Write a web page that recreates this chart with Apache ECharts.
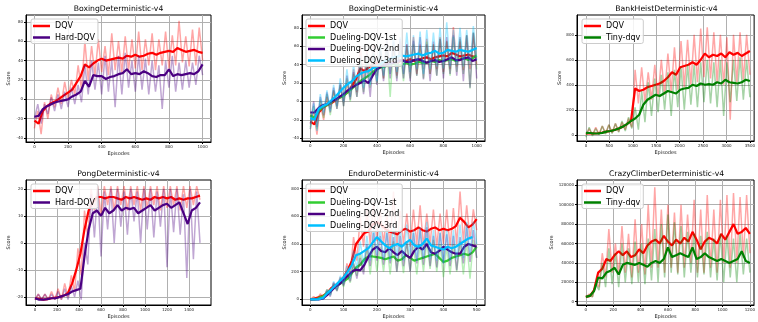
<!DOCTYPE html>
<html>
<head>
<meta charset="utf-8">
<script src="https://cdn.jsdelivr.net/npm/echarts@6/dist/echarts.min.js"></script>
<style>
  html, body { margin: 0; padding: 0; background: #fff; }
  #chart { width: 758px; height: 322px; }
</style>
</head>
<body>
<div id="chart"></div>
<script>
// ---- Boxing (DQV vs Hard-DQV, and the Dueling runs) ----
const boxRawStep = 20, boxSmoothStep = 25;
const boxDqvRaw = [-30,-12,-36,-3,-20,5,-8,12,-5,18,0,20,5,35,10,60,20,55,25,62,28,55,25,68,30,60,28,65,30,62,32,70,30,62,35,68,30,62,35,70,32,66,35,81,38,65,34,72,35,74,40];
const boxHardRaw = [-20,-5,-25,-5,-15,2,-12,5,-10,8,-8,12,-5,15,-3,35,5,40,10,38,5,45,8,40,-8,45,5,48,12,40,8,45,10,42,5,40,8,35,-10,40,12,45,8,38,10,40,12,38,15,45,25];
const boxDqv = [-22,-25,-12,-7,-4,-2,1,4,7,10,17,24,36,33,37,40,42,40,41,42,43,42,45,44,46,44,45,47,48,46,48,49,50,49,53,51,49,50,51,49,48];
const boxHard = [-18,-17,-10,-7,-5,-3,-2,-1,0,3,5,8,19,13,25,24,24,21,23,24,26,27,31,26,27,26,29,27,24,23,25,25,31,24,26,25,26,27,26,29,36];
const boxD1Raw = [-28,-5,-30,2,-18,8,-15,12,-8,18,-5,25,0,30,5,40,10,45,15,52,20,58,25,60,5,62,25,58,22,60,25,62,28,60,25,65,30,62,28,68,30,65,28,70,32,68,30,72,14,75,35];
const boxD2Raw = [-25,0,-28,5,-15,10,-12,15,-8,20,-5,28,2,32,5,38,8,40,5,50,18,58,22,62,25,65,22,68,25,62,22,66,28,70,24,62,22,65,28,68,25,70,30,72,28,70,22,72,15,75,25];
const boxD3Raw = [-30,-2,-32,8,-12,12,-10,18,-5,25,0,35,5,40,12,50,15,52,18,58,22,62,28,68,30,72,32,70,30,75,32,72,35,76,30,78,35,75,38,80,36,86,38,78,40,80,38,78,40,82,45];
const boxD1 = [-15,-18,-10,-6,-4,-1,2,4,6,10,14,18,22,25,28,32,35,37,38,40,41,39,40,42,40,41,43,42,42,44,43,45,44,45,46,44,46,47,45,47,50];
const boxD2 = [-12,-12,-7,-4,-3,0,2,5,8,12,15,18,20,23,20,28,35,38,40,41,42,44,45,43,43,45,46,44,42,44,45,43,44,46,48,45,45,47,48,44,46];
const boxD3 = [-18,-20,-8,-5,-3,1,5,10,15,19,22,27,30,32,33,36,38,41,44,46,48,49,50,49,50,51,52,50,52,53,55,52,53,56,55,54,56,55,54,56,58];
const boxXTicks = [0,200,400,600,800,1000];
const boxYTicks = [-40,-20,0,20,40,60,80];

// ---- BankHeist ----
const bankRawStep = 70, bankSmoothStep = 87.5;
const bankDqvRaw = [0,50,0,60,5,70,10,80,15,90,25,100,40,130,60,520,250,540,260,500,280,560,300,600,320,650,340,700,360,750,380,760,400,800,420,850,460,860,450,820,420,800,400,780,120,800,420,820,440,800,480];
const bankTinyRaw = [-20,60,-10,50,0,70,5,80,10,90,20,110,30,140,50,220,40,350,100,420,150,450,180,480,200,500,150,520,220,540,200,560,240,560,220,580,260,600,250,580,220,600,150,580,260,600,270,620,280,600,300];
const bankDqv = [10,12,10,12,18,25,30,38,50,65,85,110,370,350,360,380,390,400,410,430,460,500,480,540,550,560,580,560,600,650,620,640,630,650,620,660,640,655,630,650,670];
const bankTiny = [15,14,10,10,15,25,30,38,50,65,85,110,130,160,240,280,300,320,310,330,350,340,330,360,370,375,400,390,410,400,405,400,420,410,440,420,415,410,420,440,430];
const bankXTicks = [0,500,1000,1500,2000,2500,3000,3500];
const bankYTicks = [0,200,400,600,800];

// ---- Pong ----
const pongRawStep = 30, pongSmoothStep = 37.5;
const pongDqvRaw = [-21,-19,-21,-19,-21,-18,-21,-17,-21,-15,-20,-12,-18,-2,-12,12,2,20,12,21,10,21,14,21,12,21,14,21,12,21,14,21,12,21,13,21,14,21,12,21,13,21,14,21,12,21,13,21,14,21,16];
const pongHardRaw = [-21,-19,-21,-19,-21,-19,-21,-18,-21,-17,-21,-16,-20,-14,-21,0,-8,18,2,20,-5,19,5,20,0,20,6,19,3,20,8,19,0,20,5,20,2,19,6,20,-9,20,4,20,3,18,-13,20,-6,19,0];
const pongDqv = [-20.5,-20.7,-21,-20.8,-20.5,-20.3,-20,-19.5,-18.5,-15,-10,-4,5,12,15,17,17,16.5,17,17,16.5,16,17,16.5,17,16.5,16,16.5,16,17,16.5,17,16.5,17,16,16.5,16,16.5,16.5,17,17.5];
const pongHard = [-20.5,-21,-21,-20.8,-20.5,-20.5,-20,-19.5,-19,-18,-17.5,-17,-5,5,11,12,10,13,11,12,14,12,13,12.5,13,11,12,13,14,12,13,14,14.5,13,14,15,11,7,12,13,15];
const pongXTicks = [0,200,400,600,800,1000,1200,1400];
const pongYTicks = [-20,-10,0,10,20];

// ---- Enduro ----
const enduroRawStep = 10, enduroSmoothStep = 12.5;
const enduroDqvRaw = [0,20,0,40,10,70,40,120,70,160,110,260,180,450,280,600,380,650,400,700,420,650,400,620,380,780,380,640,400,620,380,650,400,680,380,620,400,650,380,620,400,650,380,660,400,780,420,680,430,650,500];
const enduroD1Raw = [0,10,0,30,5,70,30,110,60,140,90,180,120,260,170,340,200,380,180,400,200,380,200,400,180,420,200,380,190,420,200,380,180,400,200,420,220,430,200,400,160,380,180,400,200,420,180,420,150,430,300];
const enduroD2Raw = [0,0,0,10,0,60,20,120,60,150,100,200,130,260,150,300,180,400,240,480,280,460,250,480,260,450,200,460,240,420,200,480,260,500,250,520,240,460,230,480,260,470,240,460,210,450,260,520,270,500,300];
const enduroD3Raw = [0,0,0,15,0,70,30,130,70,170,110,240,150,350,220,420,250,460,280,530,320,520,290,500,280,540,300,520,280,540,320,500,280,520,300,560,290,500,280,490,260,500,280,500,290,540,300,560,330,560,400];
const enduroDqv = [0,5,15,25,45,80,100,125,160,210,280,400,440,480,490,540,560,540,510,490,480,470,500,510,490,500,520,500,490,510,520,500,510,500,510,530,590,560,520,540,580];
const enduroD1 = [0,0,5,20,45,70,90,110,130,150,190,230,250,290,310,310,305,300,290,300,310,280,290,320,300,280,290,300,310,320,330,300,270,280,300,310,320,330,320,340,380];
const enduroD2 = [0,0,0,5,30,60,90,110,140,170,200,215,210,250,310,360,380,350,340,370,340,320,350,320,300,350,380,360,400,340,330,350,380,360,340,330,330,380,400,390,380];
const enduroD3 = [0,0,0,10,40,70,100,130,160,200,250,320,330,350,370,410,450,420,390,370,390,400,380,410,430,390,380,400,440,390,380,370,360,380,370,380,400,420,440,450,null];
const enduroXTicks = [0,100,200,300,400,500];
const enduroYTicks = [0,200,400,600,800];

// ---- CrazyClimber ----
const crazyRawStep = 24, crazySmoothStep = 30;
const crazyDqvRaw = [4000,8000,5000,20000,15000,50000,25000,75000,30000,60000,28000,78000,30000,70000,25000,85000,30000,80000,28000,100000,35000,118000,35000,95000,30000,100000,35000,92000,30000,100000,35000,90000,40000,105000,30000,95000,30000,110000,35000,95000,30000,105000,40000,110000,35000,112000,40000,108000,45000,110000,50000];
const crazyTinyRaw = [5000,7000,5000,18000,12000,40000,15000,55000,18000,50000,15000,60000,20000,55000,18000,62000,20000,60000,18000,65000,22000,75000,20000,80000,25000,90000,30000,82000,28000,78000,25000,72000,30000,70000,25000,68000,28000,72000,25000,65000,22000,70000,20000,68000,25000,65000,20000,70000,28000,65000,30000];
const crazyDqv = [5000,6000,12000,30000,34000,44000,42000,48000,52000,48000,52000,46000,48000,54000,50000,58000,62000,64000,60000,68000,62000,58000,64000,60000,66000,62000,72000,64000,54000,62000,66000,64000,60000,70000,64000,72000,80000,70000,72000,76000,70000];
const crazyTiny = [5000,6000,11000,25000,24000,30000,32000,35000,28000,38000,40000,39000,38000,40000,38000,36000,40000,42000,40000,44000,56000,46000,48000,50000,48000,46000,56000,44000,46000,50000,46000,44000,42000,44000,42000,40000,42000,44000,52000,42000,40000];
const crazyXTicks = [0,200,400,600,800,1000,1200];
const crazyYTicks = [0,20000,40000,60000,80000,100000,120000];

const RED = '#ff0000', INDIGO = '#4b0082', LIME = '#32cd32', SKY = '#00bfff', GREEN = '#008000';
const FONT = 'DejaVu Sans';

const panels = [
  { title: 'BoxingDeterministic-v4', left: 26, top: 15, width: 185, height: 127,
    xMin: -50, xMax: 1050, yMin: -44, yMax: 87, xTicks: boxXTicks, yTicks: boxYTicks, nameGap: 15,
    legLeft: 31, legTop: 19,
    runs: [['DQV', RED, boxDqvRaw, boxRawStep, boxDqv, boxSmoothStep],
           ['Hard-DQV', INDIGO, boxHardRaw, boxRawStep, boxHard, boxSmoothStep]] },
  { title: 'BoxingDeterministic-v4', left: 302, top: 15, width: 183, height: 126,
    xMin: -50, xMax: 1050, yMin: -43, yMax: 94, xTicks: boxXTicks, yTicks: boxYTicks, nameGap: 15,
    legLeft: 306, legTop: 19,
    runs: [['DQV', RED, boxDqvRaw, boxRawStep, boxDqv, boxSmoothStep],
           ['Dueling-DQV-1st', LIME, boxD1Raw, boxRawStep, boxD1, boxSmoothStep],
           ['Dueling-DQV-2nd', INDIGO, boxD2Raw, boxRawStep, boxD2, boxSmoothStep],
           ['Dueling-DQV-3rd', SKY, boxD3Raw, boxRawStep, boxD3, boxSmoothStep]] },
  { title: 'BankHeistDeterministic-v4', left: 577, top: 15, width: 179, height: 126,
    xMin: -190, xMax: 3590, yMin: -50, yMax: 958, xTicks: bankXTicks, yTicks: bankYTicks, nameGap: 15,
    legLeft: 582, legTop: 19,
    runs: [['DQV', RED, bankDqvRaw, bankRawStep, bankDqv, bankSmoothStep],
           ['Tiny-dqv', GREEN, bankTinyRaw, bankRawStep, bankTiny, bankSmoothStep]] },
  { title: 'PongDeterministic-v4', left: 26, top: 180, width: 185, height: 125,
    xMin: -82, xMax: 1600, yMin: -23, yMax: 23.3, xTicks: pongXTicks, yTicks: pongYTicks, nameGap: 15,
    legLeft: 31, legTop: 184,
    runs: [['DQV', RED, pongDqvRaw, pongRawStep, pongDqv, pongSmoothStep],
           ['Hard-DQV', INDIGO, pongHardRaw, pongRawStep, pongHard, pongSmoothStep]] },
  { title: 'EnduroDeterministic-v4', left: 302, top: 180, width: 183, height: 125,
    xMin: -25, xMax: 525, yMin: -41, yMax: 863, xTicks: enduroXTicks, yTicks: enduroYTicks, nameGap: 15,
    legLeft: 306, legTop: 184,
    runs: [['DQV', RED, enduroDqvRaw, enduroRawStep, enduroDqv, enduroSmoothStep],
           ['Dueling-DQV-1st', LIME, enduroD1Raw, enduroRawStep, enduroD1, enduroSmoothStep],
           ['Dueling-DQV-2nd', INDIGO, enduroD2Raw, enduroRawStep, enduroD2, enduroSmoothStep],
           ['Dueling-DQV-3rd', SKY, enduroD3Raw, enduroRawStep, enduroD3, enduroSmoothStep]] },
  { title: 'CrazyClimberDeterministic-v4', left: 577, top: 180, width: 179, height: 125,
    xMin: -65, xMax: 1230, yMin: -3400, yMax: 125500, xTicks: crazyXTicks, yTicks: crazyYTicks, nameGap: 23,
    legLeft: 582, legTop: 184,
    runs: [['DQV', RED, crazyDqvRaw, crazyRawStep, crazyDqv, crazySmoothStep],
           ['Tiny-dqv', GREEN, crazyTinyRaw, crazyRawStep, crazyTiny, crazySmoothStep]] }
];

function pts(vals, step) {
  return vals.map((v, i) => [i * step, v]);
}

const tickLabel = { fontSize: 4, color: '#222', fontFamily: FONT, formatter: v => String(v) };
const gridLine = { show: true, lineStyle: { color: '#b0b0b0', width: 1 } };

const grids = [], xAxes = [], yAxes = [], legends = [], series = [], titles = [];

panels.forEach((p, i) => {
  grids.push({ left: p.left, top: p.top, width: p.width, height: p.height,
    show: true, borderColor: '#000', borderWidth: 1, containLabel: false });
  xAxes.push({ gridIndex: i, type: 'value', min: p.xMin, max: p.xMax,
    name: 'Episodes', nameLocation: 'middle', nameGap: 9,
    nameTextStyle: { fontSize: 5, fontFamily: FONT, color: '#222' },
    axisLine: { show: true, onZero: false, lineStyle: { color: '#000', width: 1 } },
    axisTick: { show: true, length: 2, customValues: p.xTicks, lineStyle: { color: '#000' } },
    axisLabel: Object.assign({ customValues: p.xTicks, margin: 3 }, tickLabel),
    splitLine: gridLine });
  yAxes.push({ gridIndex: i, type: 'value', min: p.yMin, max: p.yMax,
    name: 'Score', nameLocation: 'middle', nameGap: p.nameGap, nameRotate: 90,
    nameTextStyle: { fontSize: 5, fontFamily: FONT, color: '#222' },
    axisLine: { show: true, onZero: false, lineStyle: { color: '#000', width: 1 } },
    axisTick: { show: true, length: 2, customValues: p.yTicks, lineStyle: { color: '#000' } },
    axisLabel: Object.assign({ customValues: p.yTicks, margin: 3 }, tickLabel),
    splitLine: gridLine });

  // noisy per-episode run first, then its running mean on top
  p.runs.forEach(([name, color, raw, rawStep, smooth, smoothStep]) => {
    series.push({ type: 'line', name: name + ' (raw)', xAxisIndex: i, yAxisIndex: i,
      data: pts(raw, rawStep), symbol: 'none', silent: true, color: color,
      lineStyle: { width: 1.5, opacity: 0.35 } });
    series.push({ type: 'line', name: name, xAxisIndex: i, yAxisIndex: i,
      data: pts(smooth, smoothStep), symbol: 'none', color: color,
      lineStyle: { width: 2.2 } });
  });

  legends.push({ orient: 'vertical', left: p.legLeft, top: p.legTop,
    data: p.runs.map(r => r[0]), icon: 'rect', itemWidth: 17, itemHeight: 2.5, itemGap: 3.5,
    padding: [3, 3, 2, 2], backgroundColor: 'rgba(255,255,255,0.85)',
    borderColor: '#cccccc', borderWidth: 1, borderRadius: 2,
    textStyle: { fontSize: 8, fontFamily: FONT, color: '#000' } });

  titles.push({ type: 'text', x: p.left + p.width / 2, y: p.top - 5.5,
    style: { text: p.title, fill: '#000', font: '7.7px "DejaVu Sans"', align: 'center', verticalAlign: 'middle' } });
});

const chart = echarts.init(document.getElementById('chart'), null, { renderer: 'canvas' });
chart.setOption({
  animation: false,
  backgroundColor: '#fff',
  grid: grids,
  xAxis: xAxes,
  yAxis: yAxes,
  legend: legends,
  series: series,
  graphic: titles
});
</script>
</body>
</html>
